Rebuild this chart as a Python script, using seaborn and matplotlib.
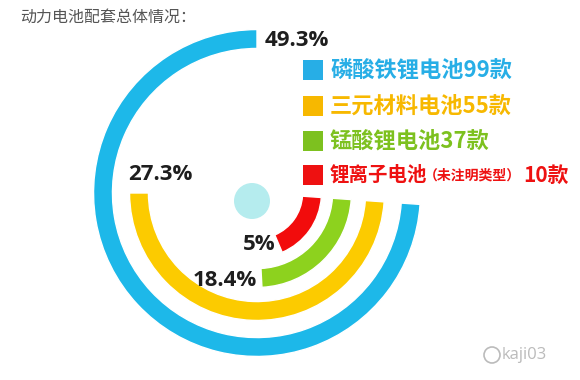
import numpy as np
import pandas as pd
import matplotlib
matplotlib.use("Agg")
import matplotlib.pyplot as plt
import seaborn as sns
from matplotlib.patches import Rectangle, Circle
from matplotlib.transforms import IdentityTransform

# battery types, outer ring first
types = ["磷酸铁锂电池", "三元材料电池", "锰酸锂电池", "锂离子电池"]
models = [99, 55, 37, 10]
shares = ["49.3%", "27.3%", "18.4%", "5%"]
# arc sweep (degrees) as drawn in the infographic
arc_deg = [266, 176, 83, 63]

ring_colors = ["#1DB8E9", "#FCCB00", "#8DD21E", "#F20C0C"]
text_colors = ["#27AEE6", "#F7B800", "#7DC11F", "#EE1111"]

# layout (pixels, origin top-left)
W, H = 580, 380
CX, CY = 257, 193
RMAX = 170
ring_r = [154, 118, 85, 55]
share_pos = [(297, 41), (160, 175), (225, 281), (259, 244)]
legend_y = [70, 106, 141, 175]


def fxy(x, y):
    return x / W, 1 - y / H


sns.set_theme(style="white")
plt.rcParams["font.family"] = ["Noto Sans CJK SC", "DejaVu Sans"]

fig = plt.figure(figsize=(5.8, 3.8), dpi=100)
fig.patch.set_facecolor("white")

l, b = fxy(CX - RMAX, CY + RMAX)
ax = fig.add_axes([l, b, 2 * RMAX / W, 2 * RMAX / H], projection="polar")
ax.set_theta_direction(-1)
ax.set_theta_offset(np.deg2rad(-4))

df = pd.DataFrame({"type": types, "r": ring_r, "sweep": np.deg2rad(arc_deg)})
sns.barplot(data=df, x="sweep", y="r", hue="type", orient="h",
            palette=dict(zip(types, ring_colors)), native_scale=True,
            width=0.63, saturation=1, errorbar=None, legend=False, ax=ax)
ax.set_xlim(0, 2 * np.pi)
ax.set_ylim(0, RMAX)
ax.set_axis_off()

# little pale dot near the centre
fig.patches.append(Circle((252, H - 201), 18, transform=IdentityTransform(),
                          facecolor="#B5ECEE", edgecolor="none"))

# title
fig.text(*fxy(20, 17), "动力电池配套总体情况：", fontsize=11.5, color="#555555",
         ha="left", va="center")

# percentage labels
for s, (x, y) in zip(shares, share_pos):
    fig.text(*fxy(x, y), s, fontsize=16, fontweight="bold", color="#1E1E1E",
             ha="center", va="center", family=["Open Sans", "DejaVu Sans"])

# legend
for i, (t, n) in enumerate(zip(types, models)):
    y = legend_y[i]
    fig.patches.append(Rectangle((303, H - y - 10), 20, 20, transform=IdentityTransform(),
                                 facecolor=text_colors[i], edgecolor="none"))
    if i < 3:
        fig.text(*fxy(330, y), f"{t}{n}款", fontsize=16, fontweight="bold",
                 color=text_colors[i], ha="left", va="center")
    else:
        fig.text(*fxy(330, y), t, fontsize=14, fontweight="bold",
                 color=text_colors[i], ha="left", va="center")
        fig.text(*fxy(424, y + 1), "（未注明类型）", fontsize=10, fontweight="bold",
                 color=text_colors[i], ha="left", va="center")
        fig.text(*fxy(523, y), f"{n}款", fontsize=15, fontweight="bold",
                 color=text_colors[i], ha="left", va="center")

# watermark
fig.patches.append(Circle((492, H - 355), 8, transform=IdentityTransform(),
                          facecolor="none", edgecolor="#BBBBBB", linewidth=1.2))
fig.text(*fxy(502, 355), "kaji03", fontsize=12, color="#BBBBBB",
         ha="left", va="center", family=["Open Sans", "DejaVu Sans"])

fig.savefig("out.png", dpi=100)
